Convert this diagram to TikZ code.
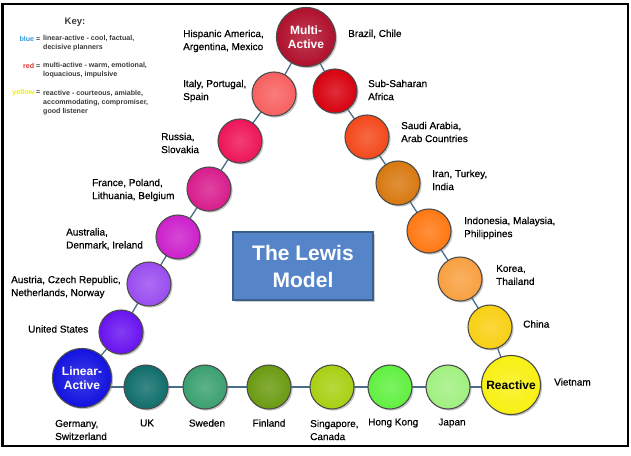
\documentclass[tikz,border=0pt]{standalone}
\usepackage{fontspec}
\setmainfont{Liberation Sans}
\newfontfamily\lblfont[FakeBold=0.6]{Liberation Sans}
\usetikzlibrary{shadows,backgrounds}
\definecolor{cMA}{HTML}{B0102C}
\definecolor{cIT}{HTML}{F7605F}
\definecolor{cSS}{HTML}{D8000E}
\definecolor{cRU}{HTML}{EE1458}
\definecolor{cSA}{HTML}{F4481A}
\definecolor{cFR}{HTML}{D81C8C}
\definecolor{cIR}{HTML}{D8780F}
\definecolor{cAU}{HTML}{CC20CC}
\definecolor{cID}{HTML}{FF7812}
\definecolor{cAT}{HTML}{9A4CF0}
\definecolor{cKO}{HTML}{F8A040}
\definecolor{cUS}{HTML}{6812F0}
\definecolor{cCN}{HTML}{F8D012}
\definecolor{cLA}{HTML}{1212E0}
\definecolor{cRE}{HTML}{F8F012}
\definecolor{cUK}{HTML}{0F6E6A}
\definecolor{cSW}{HTML}{3AA070}
\definecolor{cFI}{HTML}{6A9A10}
\definecolor{cSG}{HTML}{A8D012}
\definecolor{cHK}{HTML}{60F040}
\definecolor{cJP}{HTML}{A0F080}
\definecolor{linkc}{HTML}{4A6B8A}
\definecolor{boxfill}{HTML}{5585C8}
\definecolor{boxedge}{HTML}{3B5F8C}
\definecolor{keytext}{HTML}{3A3A3A}
\definecolor{keyblue}{HTML}{3399DD}
\definecolor{keyred}{HTML}{E03030}
\definecolor{keyyellow}{HTML}{EEEE00}
\begin{document}
\begin{tikzpicture}[x=1pt,y=-1pt,
  ball/.style={circle, draw=black!70, line width=1.1pt, minimum size=44pt, inner sep=0pt,
    inner color=#1!82!white, outer color=#1,
    drop shadow={shadow xshift=1.6pt, shadow yshift=-1.6pt, opacity=0.45}},
  bigball/.style={ball=#1, minimum size=59pt, align=center,
    font=\bfseries\fontsize{12}{13.5}\selectfont},
  lbl/.style={font=\lblfont\fontsize{10}{13}\selectfont, align=left, anchor=west, inner sep=0pt},
  blbl/.style={font=\lblfont\fontsize{10}{13}\selectfont, align=left, inner sep=0pt},
  keytag/.style={font=\bfseries\fontsize{7.1}{9.2}\selectfont, anchor=east, inner sep=0pt},
  keytxt/.style={font=\bfseries\fontsize{7.1}{9.2}\selectfont, text=keytext, align=left, anchor=west, inner sep=0pt},
  link/.style={draw=linkc, line width=1.3pt}]
\useasboundingbox (0,0) rectangle (631,455);
\draw[line width=2.6pt] (2.5,4) rectangle (628,446);

% key
\node[font=\bfseries\fontsize{9.5}{11}\selectfont, text=keytext] (key) at (75,22) {Key:};
\node[keytag] (kb) at (40.5,39) {\textcolor{keyblue}{blue} \textcolor{keytext}{=}};
\node[keytxt] (kbt) at (43,43.5) {linear-active - cool, factual,\\decisive planners};
\node[keytag] (kr) at (40.5,66) {\textcolor{keyred}{red} \textcolor{keytext}{=}};
\node[keytxt] (krt) at (43,70.5) {multi-active - warm, emotional,\\loquacious, impulsive};
\node[keytag] (ky) at (40.5,93) {\textcolor{keyyellow}{yellow} \textcolor{keytext}{=}};
\node[keytxt] (kyt) at (43,102.5) {reactive - courteous, amiable,\\accommodating, compromiser,\\good listener};

% central box
\node[fill=boxfill, draw=boxedge, line width=1.5pt, minimum width=140pt, minimum height=68pt,
  text=white, align=center, font=\bfseries\fontsize{21}{27}\selectfont,
  drop shadow={shadow xshift=2pt, shadow yshift=-2pt, opacity=0.4}] (model) at (303,266) {The Lewis\\Model};

% circles
\node[bigball=cMA, text=white] (MA) at (306,37) {Multi-\\Active};
\node[ball=cIT] (IT) at (274,94) {};
\node[ball=cSS] (SS) at (335,91) {};
\node[ball=cRU] (RU) at (240,141) {};
\node[ball=cSA] (SA) at (367,137) {};
\node[ball=cFR] (FR) at (209,189) {};
\node[ball=cIR] (IR) at (398,183) {};
\node[ball=cAU] (AU) at (178,237) {};
\node[ball=cID] (ID) at (429,231) {};
\node[ball=cAT] (AT) at (149,284) {};
\node[ball=cKO] (KO) at (460,279) {};
\node[ball=cUS] (US) at (121,332) {};
\node[ball=cCN] (CN) at (490,327) {};
\node[bigball=cLA, text=white] (LA) at (82,378) {Linear-\\Active};
\node[bigball=cRE, text=black] (RE) at (511,385) {Reactive};
\node[ball=cUK] (UK) at (146,387) {};
\node[ball=cSW] (SW) at (205,387) {};
\node[ball=cFI] (FI) at (269,387) {};
\node[ball=cSG] (SG) at (332,387) {};
\node[ball=cHK] (HK) at (390,387) {};
\node[ball=cJP] (JP) at (448,387) {};

\begin{scope}[on background layer]
\draw[link] (MA.center) -- (IT.center) -- (RU.center) -- (FR.center) -- (AU.center) -- (AT.center) -- (US.center) -- (LA.center);
\draw[link] (MA.center) -- (SS.center) -- (SA.center) -- (IR.center) -- (ID.center) -- (KO.center) -- (CN.center) -- (RE.center);
\draw[link] (LA.center |- UK.center) -- (UK.center) -- (SW.center) -- (FI.center) -- (SG.center) -- (HK.center) -- (JP.center) -- (RE.center |- JP.center);
\end{scope}

% labels
\node[lbl] (lHA) at (183,41) {Hispanic America,\\Argentina, Mexico};
\node[lbl] (lBR) at (348,34) {Brazil, Chile};
\node[lbl] (lIT) at (183,91) {Italy, Portugal,\\Spain};
\node[lbl] (lSS) at (368,90) {Sub-Saharan\\Africa};
\node[lbl] (lRU) at (161,143) {Russia,\\Slovakia};
\node[lbl] (lSA) at (401,132) {Saudi Arabia,\\Arab Countries};
\node[lbl] (lFR) at (92,190) {France, Poland,\\Lithuania, Belgium};
\node[lbl] (lIR) at (432,180) {Iran, Turkey,\\India};
\node[lbl] (lAU) at (66,239) {Australia,\\Denmark, Ireland};
\node[lbl] (lID) at (464,228) {Indonesia, Malaysia,\\Philippines};
\node[lbl] (lAT) at (11,287) {Austria, Czech Republic,\\Netherlands, Norway};
\node[lbl] (lKO) at (496,275) {Korea,\\Thailand};
\node[lbl] (lUS) at (28,329) {United States};
\node[lbl] (lCN) at (523,324) {China};
\node[lbl] (lVN) at (554,382) {Vietnam};
\node[lbl] (lDE) at (55,430) {Germany,\\Switzerland};
\node[blbl] (lUK) at (147,423) {UK};
\node[blbl] (lSW) at (207,423) {Sweden};
\node[blbl] (lFI) at (269,423) {Finland};
\node[lbl] (lSG) at (310,430) {Singapore,\\Canada};
\node[lbl] (lHK) at (368,423) {Hong Kong};
\node[blbl] (lJP) at (452,423) {Japan};
\end{tikzpicture}
\end{document}
